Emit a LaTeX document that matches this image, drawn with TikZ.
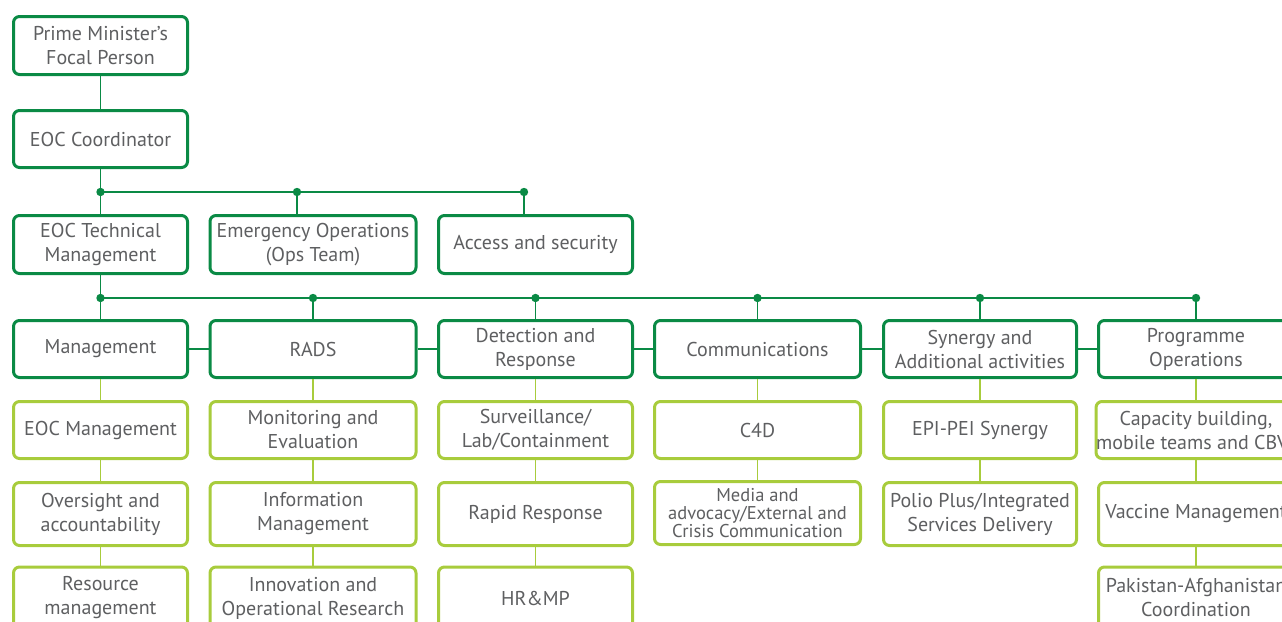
\documentclass[tikz,border=0pt]{standalone}
\usepackage{fontspec}
\setmainfont{PT Sans}
\begin{document}
\begin{tikzpicture}[x=1pt,y=-1pt,
  txt/.style={text=textgray,font=\fontsize{20}{24}\selectfont,align=center,inner sep=0pt},
  dbox/.style={txt,draw=dgreen,line width=3pt,rounded corners=6pt,fill=white},
  lbox/.style={txt,draw=lgreen,line width=3pt,rounded corners=6pt,fill=white},
  dline/.style={draw=dgreen,line width=1.6pt},
  lline/.style={draw=lgreen,line width=1.6pt},
  dotc/.style={fill=dgreen,draw=none}]
\definecolor{dgreen}{HTML}{0A8A45}
\definecolor{lgreen}{HTML}{A8CC3C}
\definecolor{textgray}{HTML}{5E5F61}
\useasboundingbox (0,0) rectangle (1282,621);
\clip (0,0) rectangle (1282,621);
% row 1-2
\node[dbox,minimum width=174,minimum height=58] (pm) at (100.5,45.5) {Prime Minister’s\\Focal Person};
\node[dbox,minimum width=174,minimum height=57] (coord) at (100.5,139) {EOC Coordinator};
% row 3
\node[dbox,minimum width=174,minimum height=58] (tech) at (100.5,244.5) {EOC Technical\\Management};
\node[dbox,minimum width=206,minimum height=58] (ops) at (313,244.5) {Emergency Operations\\(Ops Team)};
\node[dbox,minimum width=194,minimum height=58] (acc) at (535.5,244.5) {Access and security};
% row 4 (dark)
\node[dbox,minimum width=174,minimum height=57] (mgmt) at (100.5,349) {Management};
\node[dbox,minimum width=206,minimum height=57] (rads) at (313,349) {RADS};
\node[dbox,minimum width=194,minimum height=57] (det) at (535.5,349) {Detection and\\Response};
\node[dbox,minimum width=206,minimum height=57] (comm) at (757.5,349) {Communications};
\node[dbox,minimum width=193,minimum height=57] (syn) at (980,349) {Synergy and\\Additional activities};
\node[dbox,minimum width=195,minimum height=57] (prog) at (1196,349) {Programme\\Operations};
% row 5 (light)
\node[lbox,minimum width=174,minimum height=57] (a1) at (100.5,430) {EOC Management};
\node[lbox,minimum width=206,minimum height=57] (b1) at (313,430) {Monitoring and\\Evaluation};
\node[lbox,minimum width=194,minimum height=57] (c1) at (535.5,430) {Surveillance/\\Lab/Containment};
\node[lbox,minimum width=206,minimum height=57] (d1) at (757.5,430) {C4D};
\node[lbox,minimum width=193,minimum height=57] (e1) at (980,430) {EPI-PEI Synergy};
\node[lbox,minimum width=195,minimum height=57] (f1) at (1196,430) {Capacity building,\\mobile teams and CBVs};
% row 6
\node[lbox,minimum width=174,minimum height=63] (a2) at (100.5,514) {Oversight and\\accountability};
\node[lbox,minimum width=206,minimum height=63] (b2) at (313,514) {Information\\Management};
\node[lbox,minimum width=194,minimum height=63] (c2) at (535.5,514) {Rapid Response};
\node[lbox,minimum width=206,minimum height=63,font=\fontsize{18.5}{18}\selectfont] (d2) at (757.5,513) {Media and\\advocacy/External and\\Crisis Communication};
\node[lbox,minimum width=193,minimum height=63] (e2) at (980,514) {Polio Plus/Integrated\\Services Delivery};
\node[lbox,minimum width=195,minimum height=63] (f2) at (1196,514) {Vaccine Management};
% row 7
\node[lbox,minimum width=174,minimum height=62] (a3) at (100.5,598) {Resource\\management};
\node[lbox,minimum width=206,minimum height=62] (b3) at (313,598) {Innovation and\\Operational Research};
\node[lbox,minimum width=194,minimum height=62] (c3) at (535.5,598) {HR\&MP};
\node[lbox,minimum width=195,minimum height=62] (f3) at (1196,598) {Pakistan-Afghanistan\\Coordination};
% bus coordinates
\coordinate (u1) at (100.5,192);
\coordinate (u2) at (297,192);
\coordinate (u3) at (524,192);
\coordinate (l1) at (100.5,298);
\coordinate (l2) at (313,298);
\coordinate (l3) at (535.5,298);
\coordinate (l4) at (757.5,298);
\coordinate (l5) at (980,298);
\coordinate (l6) at (1196,298);
% dark connectors
\path[dline] (pm.south) -- (coord.north);
\path[dline] (coord.south) -- (u1) -- (u3);
\path[dline] (u2) -- (u2 |- ops.north);
\path[dline] (u3) -- (u3 |- acc.north);
\path[dline] (tech.south) -- (l1) -- (l6);
\foreach \c/\n in {l2/rads,l3/det,l4/comm,l5/syn,l6/prog}
  \path[dline] (\c) -- (\n.north);
\path[dline] (u1) -- (tech.north);
\path[dline] (l1) -- (mgmt.north);
\path[dline] (mgmt.east) -- (rads.west);
\path[dline] (rads.east) -- (det.west);
\path[dline] (det.east) -- (comm.west);
\path[dline] (comm.east) -- (syn.west);
\path[dline] (syn.east) -- (prog.west);
% light connectors
\foreach \p/\q in {mgmt/a1,a1/a2,a2/a3,rads/b1,b1/b2,b2/b3,det/c1,c1/c2,c2/c3,comm/d1,d1/d2,syn/e1,e1/e2,prog/f1,f1/f2,f2/f3}
  \path[lline] (\p.south) -- (\q.north);
% dots
\foreach \c in {u1,u2,u3,l1,l2,l3,l4,l5,l6}
  \fill[dotc] (\c) circle (4.2pt);
\end{tikzpicture}
\end{document}
